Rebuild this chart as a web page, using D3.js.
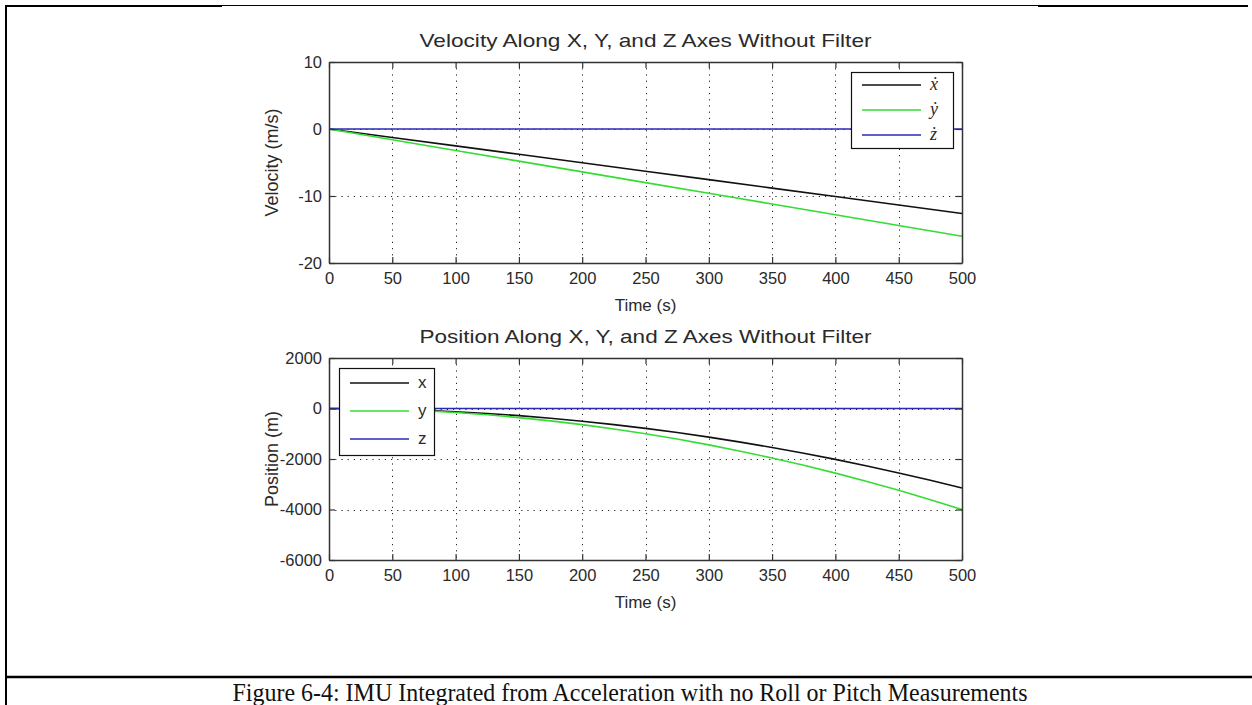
<!DOCTYPE html>
<html>
<head>
<meta charset="utf-8">
<script src="https://cdn.jsdelivr.net/npm/d3@7"></script>
<style>
  body { margin: 0; background: #fff; }
  svg { display: block; }
</style>
</head>
<body>
<svg id="fig" width="1252" height="705"></svg>
<script>
// ---- data -------------------------------------------------------------
const velTime = [0, 50, 100, 150, 200, 250, 300, 350, 400, 450, 500];
const velX = [0, -1.26, -2.52, -3.78, -5.04, -6.3, -7.56, -8.82, -10.08, -11.34, -12.6];
const velY = [0, -1.6, -3.2, -4.8, -6.4, -8.0, -9.6, -11.2, -12.8, -14.4, -16.0];
const velZ = [0, 0, 0, 0, 0, 0, 0, 0, 0, 0, 0];

const posTime = [0, 25, 50, 75, 100, 125, 150, 175, 200, 225, 250, 275, 300, 325, 350, 375, 400, 425, 450, 475, 500];
const posX = [0, -8, -32, -71, -126, -197, -284, -386, -504, -638, -788, -953, -1134, -1331, -1544, -1772, -2016, -2276, -2552, -2843, -3150];
const posY = [0, -10, -40, -90, -160, -250, -360, -490, -640, -810, -1000, -1210, -1440, -1690, -1960, -2250, -2560, -2890, -3240, -3610, -4000];
const posZ = [0, 0, 0, 0, 0, 0, 0, 0, 0, 0, 0, 0, 0, 0, 0, 0, 0, 0, 0, 0, 0];

const timeTicks = [0, 50, 100, 150, 200, 250, 300, 350, 400, 450, 500];
const velTicks = [-20, -10, 0, 10];
const posTicks = [-6000, -4000, -2000, 0, 2000];

const velNames = ["\u1E8B", "\u1E8F", "\u017C"];   // x-dot, y-dot, z-dot
const posNames = ["x", "y", "z"];
const seriesColors = ["#111111", "#33dd33", "#2a2ab4"];

const captionText = "Figure 6-4: IMU Integrated from Acceleration with no Roll or Pitch Measurements";

// ---- drawing ----------------------------------------------------------
const svg = d3.select("#fig");
const SANS = "'Liberation Sans', Arial, sans-serif";
const SERIF = "'Liberation Serif', 'Times New Roman', serif";
const INK = "#2a2a2a";

// page frame (table borders)
const frame = svg.append("g").attr("stroke", "#000").attr("fill", "none");
frame.append("line").attr("x1", 6).attr("x2", 222).attr("y1", 6).attr("y2", 6).attr("stroke-width", 2);
frame.append("line").attr("x1", 222).attr("x2", 1038).attr("y1", 5.5).attr("y2", 5.5).attr("stroke-width", 1);
frame.append("line").attr("x1", 1038).attr("x2", 1248).attr("y1", 6).attr("y2", 6).attr("stroke-width", 2);
frame.append("line").attr("x1", 6).attr("x2", 6).attr("y1", 5).attr("y2", 705).attr("stroke-width", 2);
frame.append("line").attr("x1", 6).attr("x2", 1252).attr("y1", 677).attr("y2", 677).attr("stroke-width", 2.5);

svg.append("text")
  .attr("x", 630).attr("y", 701)
  .attr("text-anchor", "middle")
  .attr("font-family", SERIF).attr("font-size", 25)
  .attr("textLength", 795).attr("lengthAdjust", "spacingAndGlyphs")
  .attr("fill", "#111")
  .text(captionText);

// plain hyphen for negative tick values
const tickText = d => String(d);

function drawPanel(cfg) {
  const left = 329, right = 962;
  const x = d3.scaleLinear().domain([0, 500]).range([left, right]);
  const y = d3.scaleLinear().domain(cfg.yDomain).range([cfg.bottom, cfg.top]);
  const g = svg.append("g");

  // dotted grid
  const grid = g.append("g").attr("stroke", "#222").attr("stroke-width", 1)
    .attr("stroke-dasharray", "1.2,5");
  grid.selectAll(".gx").data(timeTicks.slice(1, -1)).join("line")
    .attr("x1", d => Math.round(x(d)) + 0.5).attr("x2", d => Math.round(x(d)) + 0.5)
    .attr("y1", cfg.top).attr("y2", cfg.bottom);
  grid.selectAll(".gy").data(cfg.yTicks.slice(1, -1)).join("line")
    .attr("y1", d => Math.round(y(d)) + 0.5).attr("y2", d => Math.round(y(d)) + 0.5)
    .attr("x1", left).attr("x2", right);

  // data lines
  const line = d3.line().x(d => x(d[0])).y(d => y(d[1]));
  cfg.series.forEach((vals, i) => {
    g.append("path")
      .datum(cfg.time.map((t, k) => [t, vals[k]]))
      .attr("fill", "none").attr("stroke", seriesColors[i]).attr("stroke-width", 1.6)
      .attr("d", line);
  });

  // axes with inward ticks on all four sides
  const styleAxis = sel => {
    sel.select(".domain").attr("stroke", "#333").attr("stroke-width", 1.5);
    sel.selectAll(".tick line").attr("stroke", "#333").attr("stroke-width", 1.2);
    sel.selectAll("text").attr("font-family", SANS).attr("font-size", 16.5).attr("fill", INK);
  };
  g.append("g").attr("transform", `translate(0,${cfg.bottom})`)
    .call(d3.axisBottom(x).tickValues(timeTicks).tickSizeInner(-6).tickSizeOuter(0).tickPadding(9).tickFormat(tickText))
    .call(styleAxis).call(s => s.selectAll("text").attr("dy", "0.75em"));
  g.append("g").attr("transform", `translate(0,${cfg.top})`)
    .call(d3.axisTop(x).tickValues(timeTicks).tickSizeInner(-6).tickSizeOuter(0).tickFormat(""))
    .call(styleAxis);
  g.append("g").attr("transform", `translate(${left},0)`)
    .call(d3.axisLeft(y).tickValues(cfg.yTicks).tickSizeInner(-6).tickSizeOuter(0).tickPadding(7).tickFormat(tickText))
    .call(styleAxis);
  g.append("g").attr("transform", `translate(${right},0)`)
    .call(d3.axisRight(y).tickValues(cfg.yTicks).tickSizeInner(-6).tickSizeOuter(0).tickFormat(""))
    .call(styleAxis);

  // titles
  g.append("text").attr("x", (left + right) / 2).attr("y", cfg.top - 15)
    .attr("text-anchor", "middle").attr("font-family", SANS).attr("font-size", 19)
    .attr("textLength", 452).attr("lengthAdjust", "spacingAndGlyphs")
    .attr("fill", INK).text(cfg.title);
  g.append("text").attr("x", (left + right) / 2).attr("y", cfg.bottom + 48)
    .attr("text-anchor", "middle").attr("font-family", SANS).attr("font-size", 17)
    .attr("fill", INK).text("Time (s)");
  g.append("text")
    .attr("transform", `translate(278,${(cfg.top + cfg.bottom) / 2}) rotate(-90)`)
    .attr("text-anchor", "middle").attr("font-family", SANS).attr("font-size", 18)
    .attr("fill", INK).text(cfg.ylabel);

  // legend
  const L = cfg.legend;
  const lg = g.append("g");
  lg.append("rect").attr("x", L.x + 0.5).attr("y", L.y + 0.5).attr("width", L.w).attr("height", L.h)
    .attr("fill", "#fff").attr("stroke", "#111").attr("stroke-width", 1.2);
  cfg.names.forEach((name, i) => {
    const yy = L.y + L.first + i * L.step;
    lg.append("line").attr("x1", L.x + 11).attr("x2", L.x + 70).attr("y1", yy).attr("y2", yy)
      .attr("stroke", seriesColors[i]).attr("stroke-width", 1.6);
    lg.append("text").attr("x", L.x + 79).attr("y", yy + 5)
      .attr("font-family", L.serif ? SERIF : SANS).attr("font-style", L.serif ? "italic" : "normal")
      .attr("font-size", L.serif ? 18 : 17).attr("fill", INK).text(name);
  });
}

drawPanel({
  top: 62, bottom: 263, yDomain: [-20, 10], yTicks: velTicks,
  title: "Velocity Along X, Y, and Z Axes Without Filter",
  ylabel: "Velocity (m/s)",
  time: velTime, series: [velX, velY, velZ], names: velNames,
  legend: { x: 851, y: 72, w: 102, h: 76, first: 13, step: 25, serif: true }
});

drawPanel({
  top: 358, bottom: 560, yDomain: [-6000, 2000], yTicks: posTicks,
  title: "Position Along X, Y, and Z Axes Without Filter",
  ylabel: "Position (m)",
  time: posTime, series: [posX, posY, posZ], names: posNames,
  legend: { x: 339, y: 368, w: 95, h: 87, first: 15, step: 28, serif: false }
});
</script>
</body>
</html>
